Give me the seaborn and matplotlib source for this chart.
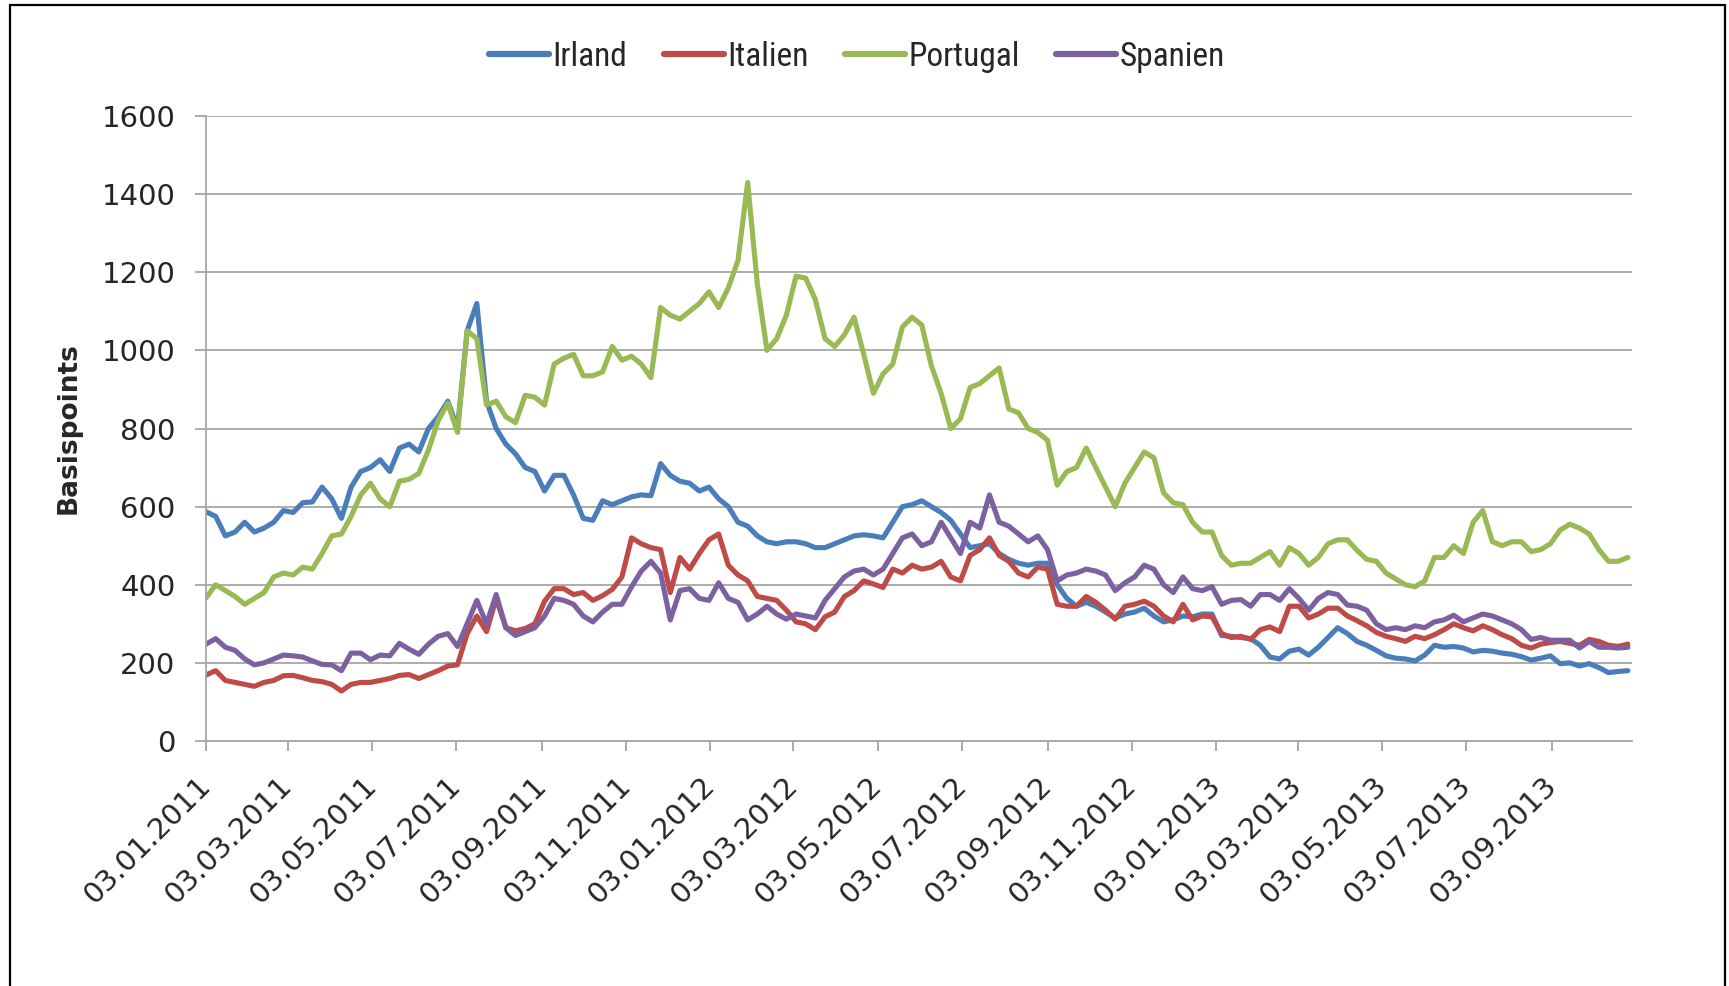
import matplotlib

matplotlib.use("Agg")

import matplotlib.pyplot as plt
import pandas as pd
import seaborn as sns
from matplotlib import font_manager
from matplotlib.lines import Line2D
from matplotlib.patches import Rectangle


# weekly readings (Mondays) from 03.01.2011 to 28.10.2013, basis points
START_DATE = "2011-01-03"
N_WEEKS = 148

irland = [
    587, 575, 525, 535, 560, 535, 545, 560, 590, 585,
    610, 612, 650, 620, 570, 650, 690, 700, 720, 690,
    750, 760, 740, 800, 830, 870, 800, 1050, 1120, 870,
    800, 760, 735, 700, 690, 640, 680, 680, 630, 570,
    565, 615, 605, 615, 625, 630, 628, 710, 680, 665,
    660, 640, 650, 620, 600, 560, 550, 525, 510, 505,
    510, 510, 505, 495, 495, 505, 515, 525, 528, 525,
    520, 560, 600, 605, 615, 600, 585, 565, 530, 495,
    500, 505, 480, 465, 455, 450, 455, 455, 400, 365,
    345, 355, 345, 330, 315, 325, 330, 340, 320, 305,
    310, 320, 318, 325, 325, 270, 268, 265, 262, 245,
    215, 210, 230, 235, 220, 240, 265, 290, 275, 255,
    245, 232, 218, 212, 210, 205, 220, 245, 240, 242,
    238, 228, 232, 230, 225, 222, 216, 207, 212, 218,
    198, 200, 192, 198, 188, 175, 178, 180,
]

italien = [
    169, 180, 155, 150, 145, 140, 150, 155, 167, 168,
    162, 155, 152, 145, 128, 145, 150, 150, 155, 160,
    168, 170, 160, 170, 180, 192, 195, 275, 320, 280,
    365, 290, 282, 288, 300, 358, 390, 390, 375, 380,
    360, 372, 388, 420, 520, 505, 495, 490, 380, 470,
    440, 480, 515, 530, 450, 425, 410, 370, 365, 360,
    335, 305, 300, 285, 318, 330, 370, 385, 410, 402,
    393, 440, 430, 450, 440, 445, 460, 420, 410, 475,
    490, 520, 475, 460, 430, 420, 445, 440, 350, 345,
    345, 370, 355, 335, 312, 345, 350, 358, 345, 320,
    305, 350, 310, 320, 318, 275, 265, 268, 260, 285,
    292, 280, 345, 345, 315, 325, 340, 340, 320, 308,
    295, 278, 268, 262, 255, 268, 262, 272, 285, 300,
    290, 282, 295, 285, 272, 262, 245, 238, 248, 252,
    255, 250, 245, 260, 255, 245, 242, 248,
]

portugal = [
    366, 400, 385, 370, 350, 365, 380, 420, 430, 425,
    445, 440, 480, 525, 530, 575, 630, 660, 620, 600,
    665, 670, 685, 745, 820, 865, 790, 1050, 1030, 860,
    870, 830, 815, 885, 880, 860, 965, 980, 990, 935,
    935, 945, 1010, 975, 985, 965, 930, 1110, 1090, 1080,
    1100, 1120, 1150, 1110, 1160, 1230, 1430, 1170, 1000, 1030,
    1090, 1190, 1185, 1130, 1030, 1010, 1040, 1085, 990, 890,
    940, 965, 1060, 1085, 1065, 960, 890, 800, 825, 905,
    915, 935, 955, 850, 840, 800, 790, 770, 655, 690,
    700, 750, 700, 650, 600, 660, 700, 740, 725, 635,
    610, 605, 560, 535, 535, 475, 450, 455, 455, 470,
    485, 450, 495, 480, 450, 470, 505, 515, 515, 488,
    465, 460, 430, 415, 400, 395, 410, 470, 470, 500,
    480, 560, 590, 510, 500, 510, 510, 485, 490, 505,
    540, 555, 545, 530, 490, 460, 460, 470,
]

spanien = [
    248, 262, 240, 232, 210, 195, 200, 210, 220, 218,
    215, 205, 196, 195, 180, 225, 225, 208, 220, 218,
    250, 235, 222, 248, 268, 275, 242, 300, 360, 300,
    375, 290, 270, 280, 290, 320, 365, 360, 350, 320,
    305, 330, 350, 350, 395, 435, 460, 430, 310, 385,
    390, 365, 360, 405, 365, 355, 310, 325, 345, 325,
    312, 325, 320, 315, 360, 390, 420, 435, 440, 425,
    440, 480, 520, 530, 500, 510, 560, 520, 480, 560,
    545, 630, 560, 550, 530, 510, 525, 490, 410, 425,
    430, 440, 435, 425, 385, 405, 420, 450, 440, 400,
    380, 420, 390, 385, 395, 350, 360, 362, 345, 375,
    375, 360, 390, 365, 335, 365, 380, 375, 348, 345,
    335, 300, 285, 290, 285, 295, 290, 305, 310, 322,
    305, 315, 325, 320, 310, 300, 285, 260, 265, 258,
    258, 258, 238, 255, 240, 240, 238, 240,
]

countries = ["Irland", "Italien", "Portugal", "Spanien"]
colors = ["#4A7EBB", "#BE4B48", "#98B954", "#7D60A0"]
tick_labels = [
    "03.01.2011", "03.03.2011", "03.05.2011", "03.07.2011", "03.09.2011",
    "03.11.2011", "03.01.2012", "03.03.2012", "03.05.2012", "03.07.2012",
    "03.09.2012", "03.11.2012", "03.01.2013", "03.03.2013", "03.05.2013",
    "03.07.2013", "03.09.2013",
]
y_ticks = [0, 200, 400, 600, 800, 1000, 1200, 1400, 1600]


def pick_font(candidates):
    for name in candidates:
        try:
            font_manager.findfont(name, fallback_to_default=False)
            return name
        except ValueError:
            continue
    return "DejaVu Sans"


dates = pd.date_range(START_DATE, periods=N_WEEKS, freq="7D")
frames = []
for name, values in zip(countries, [irland, italien, portugal, spanien]):
    frames.append(pd.DataFrame({"Datum": dates, "Spread": values, "Land": name}))
df = pd.concat(frames, ignore_index=True)

sns.set_style("white")
plt.rcParams["font.family"] = ["DejaVu Sans"]
legend_font = pick_font(["Liberation Sans Narrow", "DejaVu Sans Condensed", "Roboto Condensed", "Liberation Sans"])

W, H = 1729, 986
fig = plt.figure(figsize=(W / 100, H / 100), dpi=100)
ax = fig.add_axes([206 / W, 1 - 741 / H, (1632 - 206) / W, (741 - 116) / H])

palette = dict(zip(countries, colors))
sns.lineplot(
    data=df, x="Datum", y="Spread", hue="Land", palette=palette,
    linewidth=3.7, estimator=None, legend=False, ax=ax,
)

ax.set_xlim(dates[0], pd.Timestamp("2013-10-31"))
ax.set_ylim(0, 1600)
ax.set_yticks(y_ticks)
ax.set_yticklabels([str(v) for v in y_ticks])
tick_dates = pd.to_datetime(tick_labels, format="%d.%m.%Y")
ax.set_xticks(tick_dates)
ax.set_xticklabels(tick_labels, rotation=45, ha="right", va="center", rotation_mode="anchor")

ax.grid(axis="y", color="#A6A6A6", linewidth=1.3)
ax.grid(axis="x", visible=False)
for side in ["top", "right"]:
    ax.spines[side].set_visible(False)
for side in ["left", "bottom"]:
    ax.spines[side].set_color("#A6A6A6")
    ax.spines[side].set_linewidth(1.3)
ax.tick_params(axis="y", direction="out", length=8, width=1.3, color="#A6A6A6",
               pad=14, labelsize=21, left=True)
ax.tick_params(axis="x", direction="out", length=7, width=1.3, color="#A6A6A6",
               pad=22, labelsize=21, bottom=True)

ax.set_xlabel("")
ax.set_ylabel("Basispoints", fontsize=19, fontweight="bold", va="center")
ax.yaxis.set_label_coords(-0.096, 0.5)

handles = [Line2D([0], [0], color=c, linewidth=4.5) for c in colors]
fig.legend(
    handles, countries, loc="center", bbox_to_anchor=(857 / W, 1 - 57 / H),
    ncol=4, frameon=False, handlelength=1.8, handletextpad=0.1,
    columnspacing=1.1, prop={"family": legend_font, "size": 24},
)

fig.add_artist(Rectangle((10 / W, -0.02), (1725 - 10) / W, 1 - 5 / H + 0.02,
                         transform=fig.transFigure, fill=False,
                         edgecolor="black", linewidth=1.6))

fig.savefig("out.png", dpi=100, facecolor="white")
plt.close(fig)
